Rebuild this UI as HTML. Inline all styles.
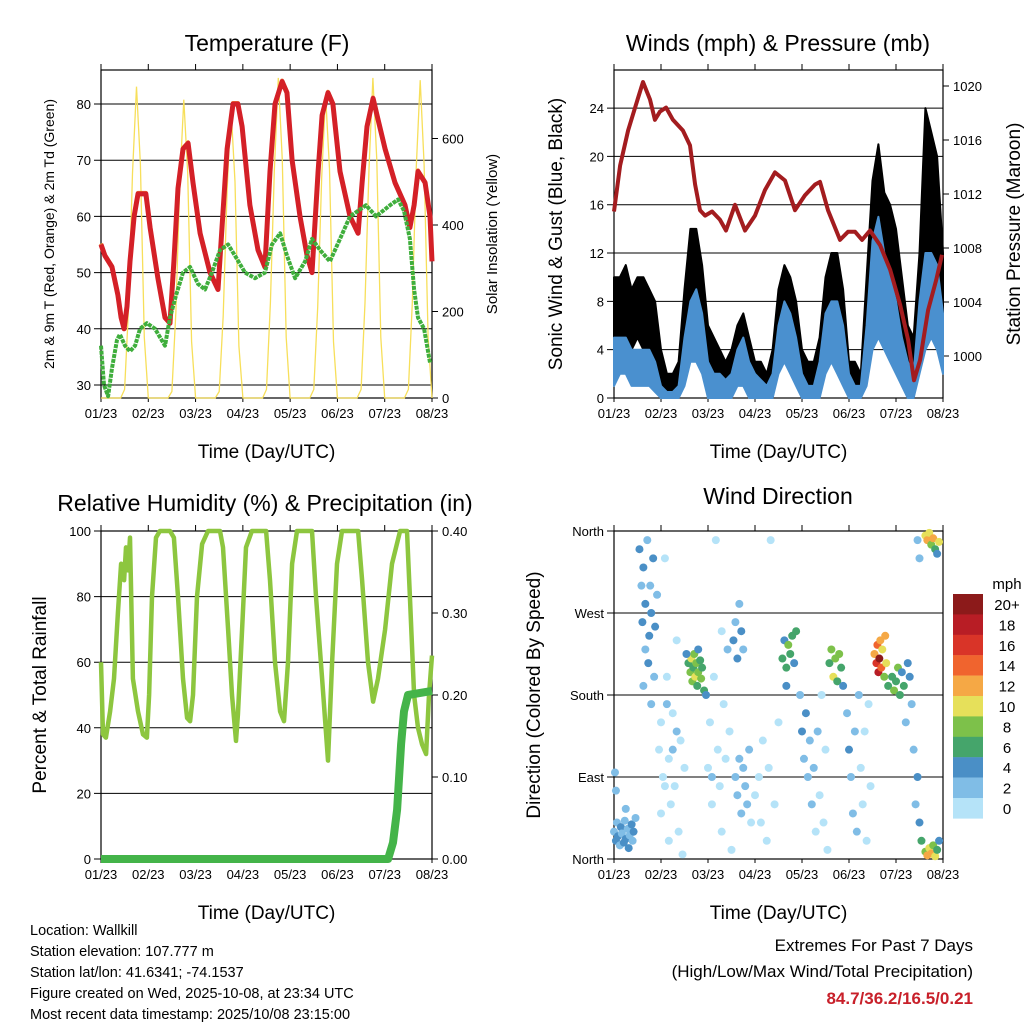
<!DOCTYPE html>
<html><head><meta charset="utf-8"><style>
html,body{margin:0;padding:0;background:#fff;}
svg{display:block;font-family:"Liberation Sans",sans-serif;}
</style></head><body>
<svg id="c" width="1024" height="1024" viewBox="0 0 1024 1024" xmlns="http://www.w3.org/2000/svg">
<rect width="1024" height="1024" fill="#fff"/>
</svg>
<script>
// ---------- DATA ----------
const xTickLabels = ["01/23","02/23","03/23","04/23","05/23","06/23","07/23","08/23"];
const tempHours = [0,2,5.6,8.6,10.2,11.7,13.2,14.7,16.8,18.8,22.8,24.9,28.9,32.5,35,37,39.1,41.6,44.2,46.7,50.3,55.3,59.4,61.4,64,67,69.5,71.6,75.6,79.7,83.2,85.8,88.3,91.9,94.4,97,101,104.6,107.1,110.2,112.2,115.2,117.7,121.3,126.4,130.5,132.5,135,138.1,140.1,144.2,149.2,154.3,156.8,158.9,160.9,164.5,167,168];
const tempVals = [55,53,51,46,42,40,44,52,60,64,64,58,49,42,41,52,65,72,73,66,57,50,47,58,72,80,80,76,62,54,51,68,80,84,82,70,60,53,50,68,78,82,80,68,60,57,66,76,81,78,72,66,62,58,62,68,66,60,52];
const dewHours = [0,1.5,3.6,5.6,8.1,9.6,12.2,14.7,17.3,19.8,23.3,27.4,32.5,35,38.1,41.6,45.2,49.2,52.8,56.3,60.4,64.5,68,73.1,78.2,83.2,86.8,90.9,94.4,98.5,103.6,107.1,111.2,116.2,121.3,126.4,130.5,134.5,139.6,146.7,150.8,153.8,156.8,158.9,160.9,164,167];
const dewVals = [37,30,28,33,38,39,37,36,37,40,41,40,37,42,46,50,51,48,47,50,54,55,53,50,49,50,55,57,53,49,52,56,54,52,56,60,61,62,60,62,63,61,56,47,42,40,34];
const solarVals = [
0,0,0,0,0,0,20,210,520,720,540,140,
0,0,0,0,0,0,15,200,500,690,520,130,
0,0,0,0,0,0,15,190,480,670,500,120,
0,0,0,0,0,0,20,220,530,740,550,140,
0,0,0,0,0,0,20,210,510,700,530,130,
0,0,0,0,0,0,20,220,530,740,550,140,
0,0,0,0,0,0,20,220,530,735,540,140,0];
const tempTicks = [30,40,50,60,70,80];
const solarTicks = [0,200,400,600];

const gustHigh = [10,10,11,9,10,10,9,8,4,2,2,3,9,14,14,11,6,5,4,3,4,6,7,5,3,3,2,4,9,11,10,8,4,3,3,5,10,12,12,9,3,3,2,10,18,21,17,16,14,10,6,5,12,24,22,20,12];
const gustLow  = [4,5,5,4,5,4,3,2,0.5,0,0,0,3,6,6,4,1,0,0,0,1,2,2,1,0,0,0,0,3,4,4,2,1,0,0,1,3,5,4,2,0,0,0,2,8,9,8,7,5,3,1,0,3,10,12,10,4];
const windHigh = [5,5,5,4,4,4,4,3,1,0.5,0.5,1,5,8,9,7,3,2,2,1.5,2,4,5,3,2,1.5,1,2,6,8,7,5,2,1,1,3,7,8,8,6,2,1,1,6,13,15,12,10,8,5,3,2,8,12,12,11,7];
const windLow  = [1,2,2,1,1,1,1,0.5,0,0,0,0,1,3,3,2,0,0,0,0,0,1,1,0,0,0,0,0,2,3,2,1,0,0,0,0,2,3,2,1,0,0,0,1,4,5,4,3,2,1,0,0,2,4,5,4,2];
const presHours = [0,3.1,7.2,11.2,14.8,18.4,20.9,23.5,26.6,30.1,35.2,38.8,41.4,43.9,46.5,50.1,54.1,57.2,61.8,66.9,72,77.1,82.2,87.3,92.4,97.5,102.7,105.2,109.3,115.4,119.5,123.1,126.7,130.7,135.9,141,146.1,150.2,153.2,156.3,160.4,164.5,167.5];
const presVals = [1010.7,1014.1,1016.7,1018.6,1020.3,1019,1017.5,1018.1,1018.4,1017.5,1016.7,1015.6,1012.7,1010.8,1010.4,1010.7,1010.1,1009.3,1011.2,1009.3,1010.4,1012.3,1013.6,1013,1010.8,1011.9,1012.7,1012.9,1010.8,1008.6,1009.2,1009.2,1008.6,1009.3,1008.2,1006.4,1003.8,1001.2,998.2,999.7,1003.4,1005.6,1007.5];
const windTicks = [0,4,8,12,16,20,24];
const presTicks = [1000,1004,1008,1012,1016,1020];

const rhHours = [0,1,2.5,4.6,6.6,8.6,10.2,11.7,12.7,13.7,14.7,16.2,18.8,21.3,23.3,24.4,25.9,27.9,29.9,35,37,39.1,41.6,43.7,45.2,46.7,48.7,51.3,54.3,60.4,61.9,64.5,66.5,68.5,69.5,71.6,73.6,76.6,83.8,85.8,88.3,90.9,92.9,94.9,97,99.5,107.1,109.1,112.2,115.2,117.3,119.8,122.3,130.5,132.5,135.5,138.1,140.6,144.2,147.7,151.8,155.3,156.8,158.9,160.9,162.9,165,166.5,168];
const rhVals = [60,38,37,45,55,75,90,85,95,88,98,55,45,38,37,50,80,98,100,100,98,80,55,43,42,50,80,96,100,100,95,70,50,36,44,70,95,100,100,85,60,45,42,60,90,100,100,80,55,30,60,90,100,100,85,60,48,55,70,90,100,100,80,50,40,35,32,50,62];
const precipHours = [0,145.7,148.2,150.3,151.3,152.3,153.8,155.8,168];
const precipVals = [0,0,0.02,0.06,0.10,0.14,0.18,0.20,0.205];
const rhTicks = [0,20,40,60,80,100];
const precipTicks = [0,0.1,0.2,0.3,0.4];

// wind direction obs: hour, direction (deg), speed (mph)
const dirHours = [0,1,1.5,2,3,3.5,4,5,5.5,6,7,7.5,8,9,9.5,10,11,0.5,1,6,13,14,14.5,15,16,16,17,17.5,18,18.5,19,20,20.5,21,22,15,19,23,24,25,26,27,28,29,30,31,32,33,34,35,36,27,30,32,26,28,24,38,39,39.5,40,40.5,41,41.5,42,42.5,43,44,44.5,45,46,37,47,43,48,49,50,51,52,53,54,55,56,57,58,59,60,50,55,61,62,63,64,65,66,62,63,64,65,66,67,68,69,70,72,74,75,76,78,79,80,82,84,86,87,88,89,90,91,92,93,88,95,96,97,98,99,100,101,102,103,104,105,106,107,108,109,110,111,112,113,114,115,116,117,119,120,121,122,123,124,125,126,127,128,129,130,131,133,134,134.5,135,135.5,136,136.5,137,138,138.5,139,140,142,143,144,145,146,147,148,150,151,152,149,153,154,155,156,157,156,155,159,160,161,162,163,164,165,166,159,160,161,162,163,164,165,166];
const dirVals = [30,20,40,25,15,35,28,18,42,22,33,12,26,38,20,30,45,95,75,55,340,300,260,320,230,280,350,215,245,300,270,330,200,255,290,190,170,120,150,90,330,200,110,60,160,80,240,30,130,5,100,170,120,140,80,20,50,215,205,220,195,210,225,200,215,190,205,218,198,210,185,225,180,230,100,150,60,200,350,120,80,30,170,110,230,140,10,90,250,240,260,220,280,250,230,90,70,110,50,100,80,60,120,40,70,90,40,130,20,100,350,60,150,220,240,210,235,225,245,215,250,190,180,140,110,160,90,130,60,100,30,140,70,180,40,120,10,215,230,200,220,195,225,210,190,160,120,90,50,140,30,180,100,60,140,20,170,80,225,215,235,205,220,240,210,230,200,245,215,190,200,185,195,210,180,205,190,215,200,170,150,120,60,90,40,20,330,350,355,350,358,345,352,340,335,348,8,4,12,6,15,3,10,20];
const dirSpeeds = [3,4,2,4,3,4,2,4,3,4,2,4,3,4,2,4,3,3,2,3,4,3,4,4,3,4,2,4,4,3,4,4,3,4,3,3,2,1,1,1,1,1,1,1,1,1,1,1,1,1,1,2,2,2,1,1,1,6,8,10,8,6,8,10,8,6,8,6,8,6,6,4,4,4,1,1,1,1,1,1,1,1,1,1,2,1,1,2,1,4,3,4,3,4,3,2,3,2,2,3,2,2,2,1,1,1,1,1,1,1,1,1,1,6,4,6,8,6,6,4,6,4,3,4,3,4,2,3,2,2,1,2,1,1,1,1,1,6,8,10,8,6,8,6,4,3,4,3,3,2,2,3,1,1,1,1,1,1,12,16,14,18,20,12,14,10,8,12,10,6,6,8,6,8,6,4,6,4,4,2,2,2,3,4,4,6,3,2,10,12,10,8,12,6,4,10,8,12,10,12,8,10,6,4];
const speedLabels = ["20+","18","16","14","12","10","8","6","4","2","0"];
const dirTickLabels = ["North","West","South","East","North"];
const dirTickVals = [360,270,180,90,0];

// ---------- DRAW ----------
const NS = "http://www.w3.org/2000/svg";
const svg = document.getElementById("c");
function mk(tag, attrs, parent) {
  const e = document.createElementNS(NS, tag);
  for (const k in attrs) e.setAttribute(k, attrs[k]);
  (parent || svg).appendChild(e);
  return e;
}
function txt(s, x, y, size, anchor, extra) {
  const t = mk("text", Object.assign({x:x, y:y, "font-size":size, "text-anchor":anchor||"middle", fill:"#000"}, extra||{}));
  t.textContent = s;
  return t;
}
function path(pts) { return pts.map((p,i)=>(i?"L":"M")+p[0].toFixed(1)+" "+p[1].toFixed(1)).join(" "); }

const panels = {
  temp: {x0:101,x1:432,y0:70,y1:398},
  wind: {x0:614,x1:943,y0:70,y1:398},
  rh:   {x0:101,x1:432,y0:531,y1:859},
  dir:  {x0:614,x1:943,y0:531,y1:859}
};
function xT(p, h) { return p.x0 + h/168*(p.x1-p.x0); }
const yTemp = v => 385 - (v-30)*5.62;
const ySolar = v => 398 - v*0.4325;
const yWind = v => 398 - v*12.08;
const yPres = v => 356 - (v-1000)*13.5;
const yRH = v => 859 - v*3.28;
const yPrecip = v => 859 - v*820;
const yDir = v => 859 - v*0.9111;

function frame(p, name, gridVals, yf, leftLabels, rightVals, yr, rightLabels) {
  const g = mk("g", {});
  
  
  gridVals.forEach((v,i) => {
    const y = yf(v);
    const l = mk("line", {x1:p.x0-7, x2:p.x1, y1:y, y2:y, stroke:"#000", "stroke-width":1}, g);
    
    
    const t = txt(leftLabels[i], p.x0-10, y+5, 13, "end");
    
    
  });
  if (rightVals) rightVals.forEach((v,i) => {
    const y = yr(v);
    const l = mk("line", {x1:p.x1, x2:p.x1+6, y1:y, y2:y, stroke:"#000"}, g);
    
    
    const t = txt(rightLabels[i], p.x1+10, y+5, 13, "start");
    
    
  });
  xTickLabels.forEach((s,i) => {
    const x = xT(p, i*24);
    const l = mk("line", {x1:x, x2:x, y1:p.y0-6, y2:p.y0, stroke:"#000"}, g);
    
    
    const l2 = mk("line", {x1:x, x2:x, y1:p.y1, y2:p.y1+4, stroke:"#000"}, g);
    
    
    const t = txt(s, x, p.y1+20, 13);
    
    
  });
  const b = mk("rect", {x:p.x0, y:p.y0, width:p.x1-p.x0, height:p.y1-p.y0, fill:"none", stroke:"#000", "stroke-width":1.2}, g);
  
  
  const xt = txt("Time (Day/UTC)", (p.x0+p.x1)/2, p.y1+60, 19);
  
  
}
function vtitle(s, x, y, size, name) {
  const t = txt(s, x, y, size, "middle", {transform:"rotate(-90 "+x+" "+y+")"});
  
  
}
function title(s, x, y, name) {
  const t = txt(s, x, y, 23);
  
  
}

// ---- Panel 1: Temperature ----
let P = panels.temp;
frame(P, "temp", tempTicks, yTemp, tempTicks.map(String), solarTicks, ySolar, solarTicks.map(String));
title("Temperature (F)", 267, 51, "temp-title");
vtitle("2m & 9m T (Red, Orange) & 2m Td (Green)", 54, 234, 14, "temp-y-axis-title");
vtitle("Solar Insolation (Yellow)", 497, 234, 15, "solar-y-axis-title");
let solar = mk("path", {d:path(solarVals.map((v,i)=>[xT(P,i*2), ySolar(v)])), fill:"none", stroke:"#f7df5a", "stroke-width":1.3});


let orange = mk("path", {d:path(tempHours.map((h,i)=>[xT(P,h), yTemp(tempVals[i])-1])), fill:"none", stroke:"#f08a3c", "stroke-width":4, "stroke-linejoin":"round"});


let red = mk("path", {d:path(tempHours.map((h,i)=>[xT(P,h), yTemp(tempVals[i])])), fill:"none", stroke:"#d42027", "stroke-width":5, "stroke-linejoin":"round"});


let green = mk("path", {d:path(dewHours.map((h,i)=>[xT(P,h), yTemp(dewVals[i])])), fill:"none", stroke:"#3fae3c", "stroke-width":4, "stroke-linejoin":"round", "stroke-dasharray":"4 1"});



// ---- Panel 2: Winds ----
P = panels.wind;
frame(P, "wind", windTicks, yWind, windTicks.map(String), presTicks, yPres, presTicks.map(String));
title("Winds (mph) & Pressure (mb)", 778, 51, "wind-title");
vtitle("Sonic Wind & Gust (Blue, Black)", 562, 234, 19, "wind-y-axis-title");
vtitle("Station Pressure (Maroon)", 1020, 234, 19, "pressure-y-axis-title");
const band = (hi, lo, p, yf) => { const a = hi.map((v,i)=>[xT(p,i*3), yf(v)]); const b = lo.map((v,i)=>[xT(p,i*3), yf(v)]).reverse(); return path(a.concat(b)) + " Z"; };
let gb = mk("path", {d:band(gustHigh, gustLow, P, yWind), fill:"#000", stroke:"#000", "stroke-width":2, "stroke-linejoin":"round"});


let wb = mk("path", {d:band(windHigh, windLow, P, yWind), fill:"#4a90cf", stroke:"#4a90cf", "stroke-width":2, "stroke-linejoin":"round"});


let pres = mk("path", {d:path(presHours.map((h,i)=>[xT(P,h), yPres(presVals[i])])), fill:"none", stroke:"#a31c1f", "stroke-width":4, "stroke-linejoin":"round"});



// ---- Panel 3: RH ----
P = panels.rh;
frame(P, "rh", rhTicks, yRH, rhTicks.map(String), precipTicks, yPrecip, precipTicks.map(v=>v.toFixed(2)));
title("Relative Humidity (%) & Precipitation (in)", 265, 511, "rh-title");
vtitle("Percent & Total Rainfall", 46, 695, 19, "rh-y-axis-title");
let rh = mk("path", {d:path(rhHours.map((h,i)=>[xT(P,h), yRH(rhVals[i])])), fill:"none", stroke:"#8dc63f", "stroke-width":4.5, "stroke-linejoin":"round"});


let pr = mk("path", {d:path(precipHours.map((h,i)=>[xT(P,h), yPrecip(precipVals[i])])), fill:"none", stroke:"#44b449", "stroke-width":8, "stroke-linejoin":"round"});



// ---- Panel 4: Wind direction ----
P = panels.dir;
frame(P, "dir", dirTickVals, yDir, dirTickLabels, null);
title("Wind Direction", 778, 504, "dir-title");
vtitle("Direction (Colored By Speed)", 540, 695, 19, "dir-y-axis-title");
const binColors = ["#b5e3f8","#80bde6","#4a8fc6","#45a56b","#7dc14a","#e6e05a","#f5a845","#f0642e","#d93428","#b81d25","#8c1a1a"];
const dg = mk("g", {});


dirHours.forEach((h,i) => {
  const b = Math.min(10, Math.floor(dirSpeeds[i]/2));
  const c = mk("circle", {cx:xT(P,h), cy:yDir(dirVals[i]), r:4, fill:binColors[b]}, dg);
  
  
});
// colorbar
const cb = mk("g", {});


speedLabels.forEach((s,i) => {
  const y = 594 + i*20.4;
  const r = mk("rect", {x:953, y:y, width:30, height:20.6, fill:binColors[10-i]}, cb);
  
  
  const t = txt(s, 1007, y+16, 15, "middle");
  
  
});
let mph = txt("mph", 1007, 589, 15);



// ---- footer ----
const info = ["Location: Wallkill","Station elevation: 107.777 m","Station lat/lon: 41.6341; -74.1537","Figure created on Wed, 2025-10-08, at 23:34 UTC","Most recent data timestamp: 2025/10/08 23:15:00"];
const infoY = [935,956,977,998,1019];
info.forEach((s,i) => {
  const t = txt(s, 30, infoY[i], 14.5, "start");
  
  
});
let e1 = txt("Extremes For Past 7 Days", 973, 951, 17, "end");


let e2 = txt("(High/Low/Max Wind/Total Precipitation)", 973, 977, 17, "end");


let e3 = txt("84.7/36.2/16.5/0.21", 973, 1004, 17, "end", {fill:"#c8202a", "font-weight":"bold"});


</script>
</body></html>
